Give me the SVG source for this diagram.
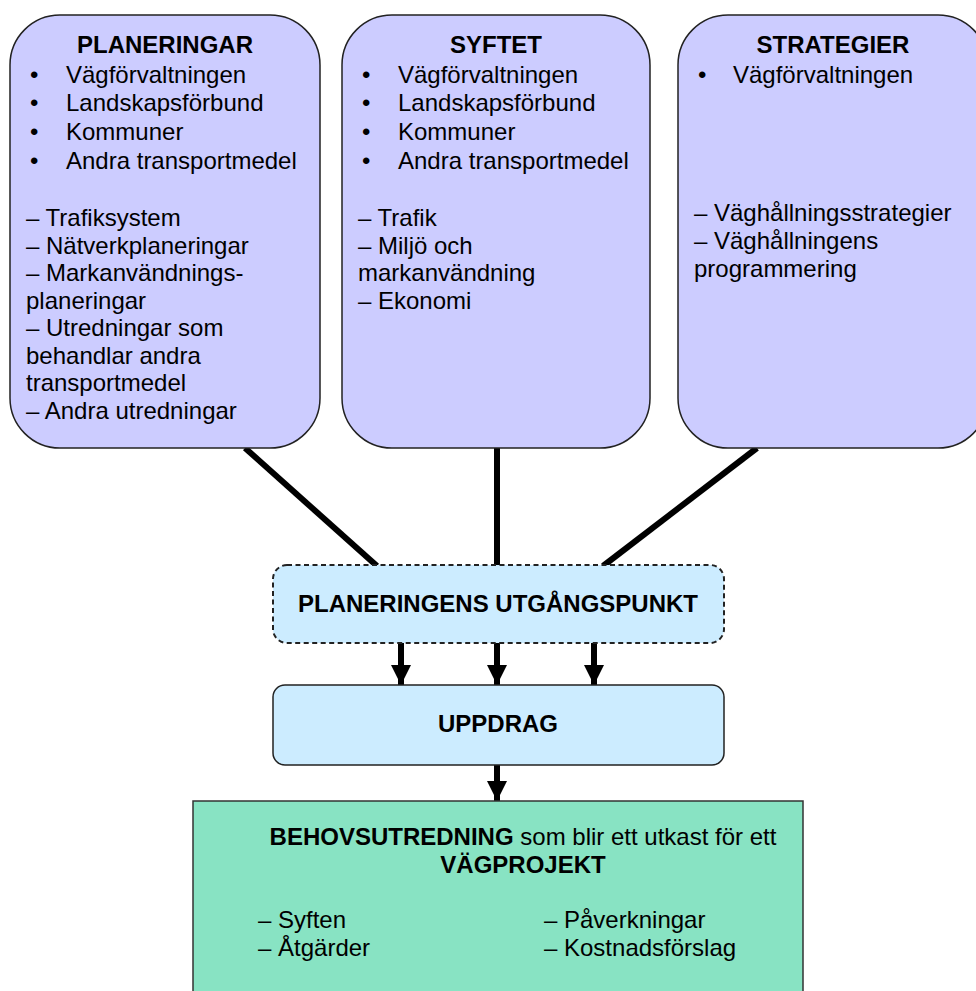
<svg xmlns="http://www.w3.org/2000/svg" width="976" height="991" viewBox="0 0 976 991">
  <style>
    .src { fill: #CCCCFF; stroke: #222; stroke-width: 1.5; }
    .mid { fill: #CCECFF; stroke: #222; stroke-width: 1.5; }
    .dash { stroke-dasharray: 5 3.5; stroke-width: 2; }
    .out { fill: #88E3C3; stroke: #333; stroke-width: 1.5; }
    text { font-family: "Liberation Sans", Arial, sans-serif; font-size: 24px; fill: #000; }
    .b { font-weight: bold; }
    .link { stroke: #000; stroke-width: 6; fill: none; }
  </style>
  <defs>
    <marker id="head" viewBox="0 0 10 10" refX="10" refY="5" markerWidth="3.4" markerHeight="3.4" markerUnits="strokeWidth" orient="auto">
      <path d="M0,0 L10,5 L0,10 Z" fill="#000"/>
    </marker>
  </defs>

  <!-- connectors -->
  <g id="connectors">
    <line class="link" x1="245" y1="448" x2="377" y2="566"/>
    <line class="link" x1="497" y1="448" x2="497" y2="566"/>
    <line class="link" x1="757" y1="448" x2="603" y2="566"/>
    <line class="link" x1="401" y1="643" x2="401" y2="685" marker-end="url(#head)"/>
    <line class="link" x1="497" y1="643" x2="497" y2="685" marker-end="url(#head)"/>
    <line class="link" x1="594" y1="643" x2="594" y2="685" marker-end="url(#head)"/>
    <line class="link" x1="497" y1="765" x2="497" y2="801" marker-end="url(#head)"/>
  </g>

  <!-- planning sources -->
  <g id="planeringar">
    <rect class="src" x="10" y="15" width="310" height="433" rx="50" ry="50"/>
    <text class="b" x="165" y="53" text-anchor="middle">PLANERINGAR</text>
    <text x="30" y="83">•</text><text x="66" y="83">Vägförvaltningen</text>
    <text x="30" y="111">•</text><text x="66" y="111">Landskapsförbund</text>
    <text x="30" y="140">•</text><text x="66" y="140">Kommuner</text>
    <text x="30" y="169">•</text><text x="66" y="169">Andra transportmedel</text>
    <text x="26" y="226">– Trafiksystem</text>
    <text x="26" y="253.5">– Nätverkplaneringar</text>
    <text x="26" y="281">– Markanvändnings-</text>
    <text x="26" y="308.5">planeringar</text>
    <text x="26" y="336">– Utredningar som</text>
    <text x="26" y="363.5">behandlar andra</text>
    <text x="26" y="391">transportmedel</text>
    <text x="26" y="418.5">– Andra utredningar</text>
  </g>

  <g id="syftet">
    <rect class="src" x="342" y="15" width="308" height="433" rx="50" ry="50"/>
    <text class="b" x="496" y="53" text-anchor="middle">SYFTET</text>
    <text x="362" y="83">•</text><text x="398" y="83">Vägförvaltningen</text>
    <text x="362" y="111">•</text><text x="398" y="111">Landskapsförbund</text>
    <text x="362" y="140">•</text><text x="398" y="140">Kommuner</text>
    <text x="362" y="169">•</text><text x="398" y="169">Andra transportmedel</text>
    <text x="358" y="226">– Trafik</text>
    <text x="358" y="253.5">– Miljö och</text>
    <text x="358" y="281">markanvändning</text>
    <text x="358" y="308.5">– Ekonomi</text>
  </g>

  <g id="strategier">
    <rect class="src" x="678" y="15" width="310" height="433" rx="50" ry="50"/>
    <text class="b" x="833" y="53" text-anchor="middle">STRATEGIER</text>
    <text x="698" y="83">•</text><text x="733" y="83">Vägförvaltningen</text>
    <text x="694" y="221">– Väghållningsstrategier</text>
    <text x="694" y="249">– Väghållningens</text>
    <text x="694" y="277">programmering</text>
  </g>

  <!-- starting point and assignment -->
  <g id="utgangspunkt">
    <rect class="mid dash" x="273" y="565" width="451" height="78" rx="14" ry="14"/>
    <text class="b" x="498" y="612" text-anchor="middle">PLANERINGENS UTGÅNGSPUNKT</text>
  </g>

  <g id="uppdrag">
    <rect class="mid" x="273" y="685" width="451" height="80" rx="12" ry="12"/>
    <text class="b" x="498" y="732" text-anchor="middle">UPPDRAG</text>
  </g>

  <!-- needs study -->
  <g id="behovsutredning">
    <rect class="out" x="193" y="801" width="610" height="200"/>
    <text x="523" y="845" text-anchor="middle"><tspan class="b">BEHOVSUTREDNING</tspan> som blir ett utkast för ett</text>
    <text class="b" x="523" y="873" text-anchor="middle">VÄGPROJEKT</text>
    <text x="258" y="928">– Syften</text>
    <text x="258" y="956">– Åtgärder</text>
    <text x="544" y="928">– Påverkningar</text>
    <text x="544" y="956">– Kostnadsförslag</text>
  </g>
</svg>
